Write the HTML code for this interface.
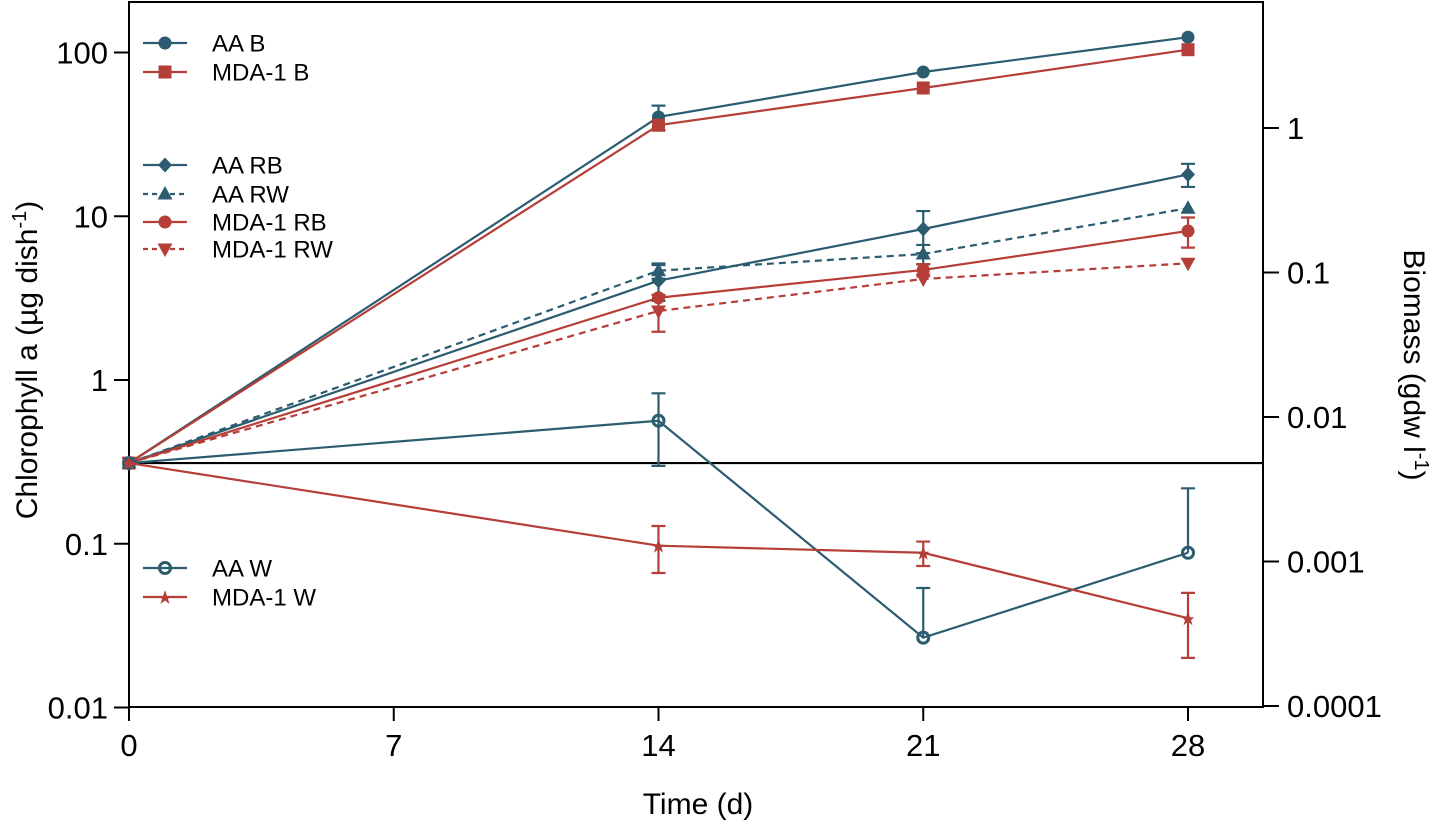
<!DOCTYPE html>
<html><head><meta charset="utf-8"><style>
html,body{margin:0;padding:0;background:#fff;overflow:hidden;}
svg{display:block;font-family:"Liberation Sans",Arial,sans-serif;}
</style></head><body>
<svg id="chart" width="1440" height="827" viewBox="0 0 1440 827"></svg>
<script>
const days = [0, 14, 21, 28];
const xTicks = [0, 7, 14, 21, 28];
const yTicksLeft = [100, 10, 1, 0.1, 0.01];
const yTickLabelsLeft = ["100", "10", "1", "0.1", "0.01"];
const yTicksRight = [1, 0.1, 0.01, 0.001, 0.0001];
const yTickLabelsRight = ["1", "0.1", "0.01", "0.001", "0.0001"];

const aaB = [0.311, 40.4, 76, 124];
const aaBErr = [0, 7, 0, 0];
const mdaB = [0.311, 36, 60.7, 104];
const mdaBErr = [0, 0, 0, 0];
const aaRB = [0.311, 4.04, 8.36, 18.0];
const aaRBErr = [0, 1.0, 2.4, 2.9];
const aaRW = [0.311, 4.65, 5.88, 11.2];
const aaRWErr = [0, 0.5, 0.8, 0];
const mdaRB = [0.311, 3.18, 4.70, 8.13];
const mdaRBErr = [0, 0, 0.4, 1.7];
const mdaRW = [0.311, 2.64, 4.14, 5.16];
const mdaRWErr = [0, 0.67, 0, 0];
const aaW = [0.311, 0.564, 0.0267, 0.0881];
const aaWErr = [0, 0.265, 0.027, 0.13];
const mdaW = [0.311, 0.0973, 0.0881, 0.0351];
const mdaWErr = [0, 0.031, 0.015, 0.015];

const TEAL = "#2b5c70", RED = "#b63e38";
const svg = document.getElementById('chart');
const NS = "http://www.w3.org/2000/svg";
const X0 = 129, X1 = 1263, Y0 = 2, Y1 = 707;
function xs(d){ return 129 + d * (1059/28); }
function ys(v){ return 380 - 163.75 * Math.log10(v); }
function ysR(v){ return 128 - 144.5 * Math.log10(v); }
function mk(tag, attrs, parent){
  const e = document.createElementNS(NS, tag);
  for (const k in attrs) e.setAttribute(k, attrs[k]);
  (parent || svg).appendChild(e);
  return e;
}

const frame = mk('path', {d:`M${X0},${Y0} H${X1} V${Y1} H${X0} Z`, fill:'none', stroke:'#000', 'stroke-width':2});


const refl = mk('line', {x1:X0, x2:X1, y1:ys(0.311), y2:ys(0.311), stroke:'#000', 'stroke-width':2.2});



xTicks.forEach((t,i)=>{
  const x = xs(t);
  const tk = mk('line', {x1:x, x2:x, y1:Y1, y2:Y1+14, stroke:'#000', 'stroke-width':2});
  
  
  const lb = mk('text', {x:x, y:756, 'text-anchor':'middle', 'font-size':31, fill:'#000'});
  lb.textContent = String(t);
  
  
});
yTicksLeft.forEach((t,i)=>{
  const y = ys(t);
  const tk = mk('line', {x1:X0-15, x2:X0, y1:y, y2:y, stroke:'#000', 'stroke-width':2});
  
  
  const lb = mk('text', {x:108, y:y+11, 'text-anchor':'end', 'font-size':31, fill:'#000'});
  lb.textContent = yTickLabelsLeft[i];
  
  
});
yTicksRight.forEach((t,i)=>{
  const y = ysR(t);
  const tk = mk('line', {x1:X1, x2:X1+16, y1:y, y2:y, stroke:'#000', 'stroke-width':2});
  
  
  const lb = mk('text', {x:1287, y:y+11, 'text-anchor':'start', 'font-size':31, fill:'#000'});
  lb.textContent = yTickLabelsRight[i];
  
  
});

const xt = mk('text', {x:698, y:814, 'text-anchor':'middle', 'font-size':30, fill:'#000'});
xt.textContent = 'Time (d)';


const ylt = mk('text', {transform:'translate(37,360) rotate(-90)', 'text-anchor':'middle', 'font-size':30, fill:'#000'});
ylt.innerHTML = 'Chlorophyll a (µg dish<tspan dy="-11" font-size="20">-1</tspan><tspan dy="11">)</tspan>';


const yrt = mk('text', {transform:'translate(1404,365) rotate(90)', 'text-anchor':'middle', 'font-size':30, fill:'#000'});
yrt.innerHTML = 'Biomass (gdw l<tspan dy="-11" font-size="20">-1</tspan><tspan dy="11">)</tspan>';



function marker(g, shape, x, y, color){
  let e;
  if (shape==='circle') e = mk('circle', {cx:x, cy:y, r:6.5, fill:color}, g);
  else if (shape==='square') e = mk('rect', {x:x-6.5, y:y-6.5, width:13, height:13, fill:color}, g);
  else if (shape==='diamond') e = mk('path', {d:`M${x},${y-7.5} L${x+7},${y} L${x},${y+7.5} L${x-7},${y} Z`, fill:color}, g);
  else if (shape==='tri') e = mk('path', {d:`M${x},${y-8} L${x+7.5},${y+5.5} L${x-7.5},${y+5.5} Z`, fill:color}, g);
  else if (shape==='tridown') e = mk('path', {d:`M${x},${y+8} L${x+7.5},${y-5.5} L${x-7.5},${y-5.5} Z`, fill:color}, g);
  else if (shape==='hex') e = mk('circle', {cx:x, cy:y, r:6.5, fill:color}, g);
  else if (shape==='open') e = mk('circle', {cx:x, cy:y, r:5.5, fill:'none', stroke:color, 'stroke-width':3}, g);
  else if (shape==='star') e = mk('path', {d:`M${x},${y-7} L${x+2},${y-1} L${x+6},${y-1} L${x+3},${y+2} L${x+4.5},${y+7} L${x},${y+3.5} L${x-4.5},${y+7} L${x-3},${y+2} L${x-6},${y-1} L${x-2},${y-1} Z`, fill:color}, g);
  
  
}

function series(name, vals, errs, color, shape, dashed){
  const g = mk('g', {});
  
  
  const pts = vals.map((v,i)=>xs(days[i])+','+ys(v)).join(' ');
  const pl = mk('polyline', {points:pts, fill:'none', stroke:color, 'stroke-width':2.2, 'stroke-dasharray': dashed ? '7,5' : 'none'}, g);
  
  
  vals.forEach((v,i)=>{
    const e = errs[i];
    if (e > 0){
      const x = xs(days[i]);
      const hasLow = v - e > v * 0.2;
      const yt = ys(v+e);
      const yb = hasLow ? ys(v-e) : ys(v);
      const eb = mk('path', {d:`M${x},${yt} V${yb} M${x-7},${yt} H${x+7}` + (hasLow ? ` M${x-7},${yb} H${x+7}` : ''), stroke:color, 'stroke-width':2.2, fill:'none'}, g);
      
      
    }
    marker(g, shape, xs(days[i]), ys(v), color);
  });
}
series('aa-b', aaB, aaBErr, TEAL, 'circle', false);
series('mda-b', mdaB, mdaBErr, RED, 'square', false);
series('aa-rb', aaRB, aaRBErr, TEAL, 'diamond', false);
series('aa-rw', aaRW, aaRWErr, TEAL, 'tri', true);
series('mda-rb', mdaRB, mdaRBErr, RED, 'hex', false);
series('mda-rw', mdaRW, mdaRWErr, RED, 'tridown', true);
series('aa-w', aaW, aaWErr, TEAL, 'open', false);
series('mda-w', mdaW, mdaWErr, RED, 'star', false);

const legendItems = [
  ['AA B', TEAL, 'circle', false, 43],
  ['MDA-1 B', RED, 'square', false, 72],
  ['AA RB', TEAL, 'diamond', false, 165],
  ['AA RW', TEAL, 'tri', true, 194],
  ['MDA-1 RB', RED, 'hex', false, 222],
  ['MDA-1 RW', RED, 'tridown', true, 249],
  ['AA W', TEAL, 'open', false, 568],
  ['MDA-1 W', RED, 'star', false, 597]
];
legendItems.forEach(it=>{
  const g = mk('g', {});
  
  
  const y = it[4];
  mk('line', {x1:143, x2:187, y1:y, y2:y, stroke:it[1], 'stroke-width':2.2, 'stroke-dasharray': it[3] ? '5,4' : 'none'}, g);
  marker(g, it[2], 165, y, it[1]);
  const t = mk('text', {x:212, y:y+8.5, 'font-size':24, fill:'#000'}, g);
  t.textContent = it[0];
});
</script>
</body></html>
